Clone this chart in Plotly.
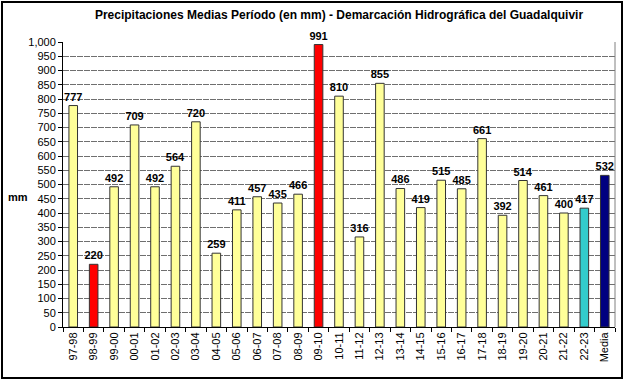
import plotly.graph_objects as go

categories = ["97-98", "98-99", "99-00", "00-01", "01-02", "02-03", "03-04", "04-05",
              "05-06", "06-07", "07-08", "08-09", "09-10", "10-11", "11-12", "12-13",
              "13-14", "14-15", "15-16", "16-17", "17-18", "18-19", "19-20", "20-21",
              "21-22", "22-23", "Media"]
values = [777, 220, 492, 709, 492, 564, 720, 259, 411, 457, 435, 466, 991, 810, 316,
          855, 486, 419, 515, 485, 661, 392, 514, 461, 400, 417, 532]

YELLOW = "#FFFF99"
RED = "#FF0000"
TEAL = "#33CCCC"
NAVY = "#000080"
special = {"98-99": RED, "09-10": RED, "22-23": TEAL, "Media": NAVY}
colors = [special.get(c, YELLOW) for c in categories]

W, H = 625, 383
L, R, T, B = 63, 10, 42, 56
pw, ph = W - L - R, H - T - B

fig = go.Figure(go.Bar(
    x=categories, y=values,
    marker=dict(color=colors, line=dict(color="#333333", width=1)),
    width=0.42,
    text=[str(v) for v in values], textposition="outside",
    textfont=dict(family="Arial, Liberation Sans", size=11, color="black"),
    texttemplate="<b>%{text}</b>",
    constraintext="none",
    cliponaxis=False,
))

def px_x(p):
    return (p - L) / pw

def px_y(p):
    return (H - B - p) / ph

fig.update_layout(
    width=W, height=H,
    margin=dict(l=L, r=R, t=T, b=B, autoexpand=False),
    paper_bgcolor="white", plot_bgcolor="white",
    font=dict(family="Arial, Liberation Sans", size=11, color="black"),
    showlegend=False,
    title=dict(text="<b>Precipitaciones Medias Período (en mm) - Demarcación Hidrográfica del Guadalquivir</b>",
               x=0.5, xref="paper", xanchor="center", y=1 - 15 / H, yref="container", yanchor="middle",
               font=dict(size=12, family="Arial, Liberation Sans", color="black")),
    annotations=[dict(text="<b>mm</b>", x=px_x(18), y=px_y(197), xref="paper", yref="paper",
                      xanchor="center", yanchor="middle",
                      showarrow=False, font=dict(size=11))],
    shapes=[
        dict(type="rect", xref="paper", yref="paper",
             x0=px_x(2), x1=px_x(622), y0=px_y(378), y1=px_y(2),
             line=dict(color="black", width=2), fillcolor="rgba(0,0,0,0)", layer="below"),
        dict(type="line", xref="paper", yref="paper", x0=1, x1=1, y0=0, y1=1,
             line=dict(color="#808080", width=1)),
    ],
)

fig.update_yaxes(
    range=[0, 1000], dtick=50, tickformat=",d", automargin=False,
    showgrid=True, gridcolor="#6f6f6f", gridwidth=1, griddash="6px,1px",
    showline=True, linecolor="black", linewidth=1,
    ticks="outside", ticklen=4, tickcolor="black",
    zeroline=False, tickfont=dict(size=11),
)
fig.update_xaxes(
    type="category", range=[-0.5, len(categories) - 0.5], automargin=False,
    tickangle=-90, showline=True, linecolor="black", linewidth=1,
    ticks="outside", ticklen=4, tickcolor="black", tickson="boundaries",
    showgrid=False, tickfont=dict(size=11),
)

fig.write_html("out.html", config={"displayModeBar": False},
               post_script="document.body.style.margin='0';")
